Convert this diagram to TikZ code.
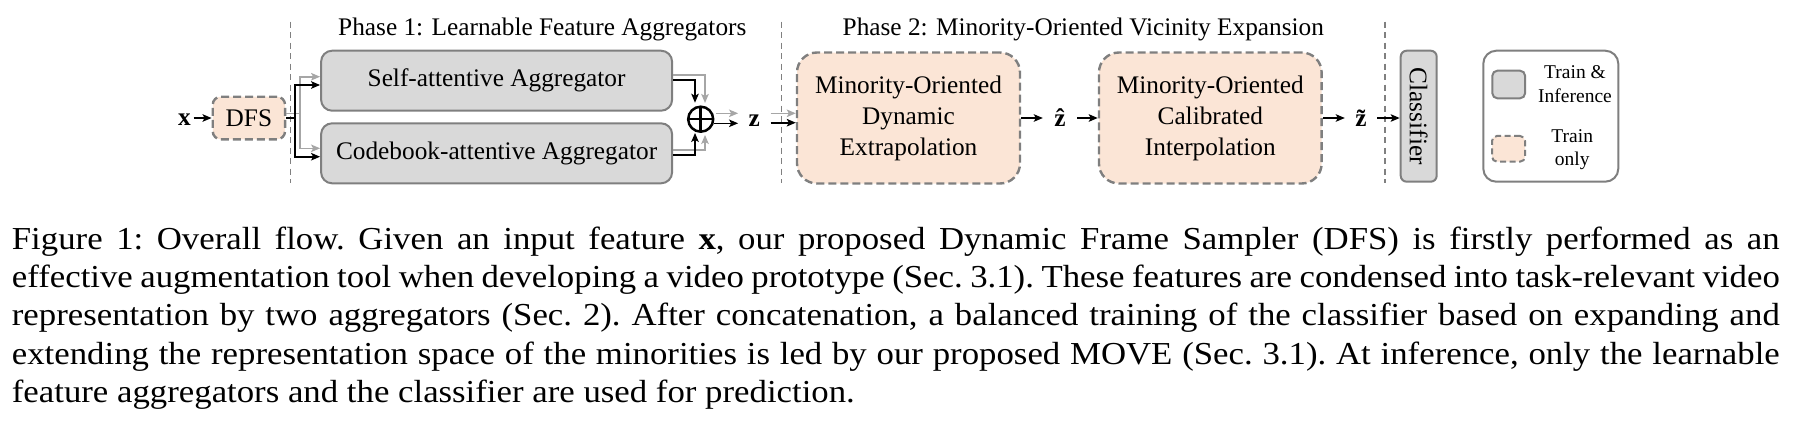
\documentclass[tikz,border=0pt]{standalone}
\usepackage{graphicx}
\usepackage{fontspec}
\setmainfont{Liberation Serif}
\usetikzlibrary{arrows.meta,calc}
\definecolor{bordergray}{HTML}{7F7F7F}
\definecolor{fillgray}{HTML}{D9D9D9}
\definecolor{peach}{HTML}{FBE5D6}
\definecolor{arrgray}{HTML}{A6A6A6}
\definecolor{sepgray}{HTML}{808080}
\newlength\mylastw
\newcommand\mycapfont{\fontsize{32}{38}\selectfont\frenchspacing}
\newcommand\capjust[1]{\scalebox{\mysx}[1]{\makebox[\myinnerw][s]{\mycapfont #1}}}
\newcommand\caplast[1]{\scalebox{\mysx}[1]{\mycapfont #1}}
\begin{document}
\settowidth{\mylastw}{\mycapfont feature aggregators and the classifier are used for prediction.}%
\pgfmathsetmacro\mysx{842.9/\mylastw}%
\pgfmathsetlengthmacro\myinnerw{1767.8/\mysx}%
\begin{tikzpicture}[x=1pt,y=-1pt,
  font=\fontsize{25.3}{31}\selectfont,
  box/.style={draw=bordergray, line width=2pt, fill=fillgray, rounded corners=11pt, inner sep=0pt, align=center},
  trn/.style={draw=bordergray, line width=2.4pt, dash pattern=on 8pt off 4pt, fill=peach, inner sep=0pt, align=center},
  arr/.style={-{Stealth[length=9pt,width=7.5pt,inset=2pt]}, line width=1.6pt, draw=black},
  garr/.style={arr, draw=arrgray},
  sep/.style={draw=sepgray, line width=1.1pt, dash pattern=on 6pt off 4.5pt},
  lbl/.style={inner sep=0pt, font=\fontsize{25.3}{31}\selectfont\bfseries, anchor=base},
  capline/.style={anchor=base west, inner sep=0pt},
  legtext/.style={inner sep=0pt, align=center, font=\fontsize{19.5}{23.7}\selectfont},
]
\useasboundingbox (0,0) rectangle (1799,426);

% separators
\draw[sep] (290.7,21.7) -- (290.7,183);
\draw[sep] (781.7,21.7) -- (781.7,183);
\draw[sep] (1385,21.7) -- (1385,183);

% titles
\node[anchor=base, inner sep=0pt] (p1) at (542.3,35) {Phase 1: Learnable Feature Aggregators};
\node[anchor=base, inner sep=0pt] (p2) at (1083.3,35) {Phase 2: Minority-Oriented Vicinity Expansion};

% nodes
\node[lbl, minimum width=18pt] (x) at (184.5,125) {x};
\node[trn, rounded corners=8pt, minimum width=72.3pt, minimum height=42.6pt] (dfs) at (248.9,118) {DFS};
\node[box, minimum width=351pt, minimum height=60pt] (self) at (496.6,80.7) {Self-attentive Aggregator};
\node[box, minimum width=351pt, minimum height=60pt] (code) at (496.6,153.3) {Codebook-attentive Aggregator};
\node[circle, draw=black, line width=2.5pt, minimum size=25pt, inner sep=0pt,
  path picture={\draw[line width=2.5pt] (path picture bounding box.north) -- (path picture bounding box.south)
  (path picture bounding box.west) -- (path picture bounding box.east);}] (op) at (700.7,119.2) {};
\node[lbl, minimum width=32pt] (z) at (754.3,126.7) {z};
\node[trn, rounded corners=20pt, minimum width=223pt, minimum height=131pt] (mode) at (908.5,118) {Minority-Oriented\\Dynamic\\Extrapolation};
\node[lbl, minimum width=34pt] (zh) at (1060,126.7) {\^{z}};
\node[trn, rounded corners=20pt, minimum width=222.7pt, minimum height=131pt] (moci) at (1210.3,118) {Minority-Oriented\\Calibrated\\Interpolation};
\node[lbl, minimum width=32pt] (zt) at (1361,126.7) {\~{z}};
\node[box, rounded corners=6pt, minimum width=36pt, minimum height=131pt] (cls) at (1418.7,116.2) {\rotatebox{-90}{Classifier}};

% legend
\node[draw=bordergray, line width=2pt, rounded corners=13pt, fill=white, minimum width=135pt, minimum height=131pt, inner sep=0pt] (leg) at (1550.8,116.2) {};
\node[box, rounded corners=5pt, minimum width=32.7pt, minimum height=27.6pt] (lg1) at (1508.7,84.5) {};
\node[trn, rounded corners=5pt, line width=2pt, dash pattern=on 6pt off 3.5pt, minimum width=33pt, minimum height=25.7pt] (lg2) at (1508.5,148.8) {};
\node[legtext] (t1) at (1575,84.2) {Train \&\\Inference};
\node[legtext] (t2) at (1572.2,149.5) {Train\\only};

% connectors
\draw[arr] ($(x.base east)+(0,-7)$) -- (dfs.west);
\draw[garr] ($(dfs.east)+(0,-4.7)$) -- ++(14,0) |- ($(self.west)+(0,-4)$);
\draw[garr] ($(dfs.east)+(0,-4.7)$) -- ++(14,0) |- ($(code.west)+(0,-5)$);
\draw[arr] (dfs.east) -- ++(9,0) |- ($(self.west)+(0,4.3)$);
\draw[arr] (dfs.east) -- ++(9,0) |- ($(code.west)+(0,3.4)$);

\draw[garr] ($(self.east)+(0,-5.7)$) -| ($(op.north)+(4.3,-2.5)$);
\draw[garr] ($(code.east)+(0,-3.3)$) -| ($(op.south)+(4.3,2)$);
\draw[arr] ($(self.east)+(0,-0.7)$) -| ($(op.north)+(-5.7,-2.7)$);
\draw[arr] ($(code.east)+(0,1.7)$) -| ($(op.south)+(-5.7,0)$);

\draw[garr] ($(op.east)+(1.5,-5.9)$) -- ($(z.base west)+(0,-13.4)$);
\draw[arr] ($(op.east)+(0,4.1)$) -- ($(z.base west)+(0,-3.4)$);
\draw[garr] ($(z.base east)+(0,-13.4)$) -- ($(mode.west)+(0,-4.7)$);
\draw[arr] ($(z.base east)+(0,-4)$) -- ($(mode.west)+(0,4.7)$);

\draw[arr] (mode.east) -- ($(zh.base west)+(0,-8.7)$);
\draw[arr] ($(zh.base east)+(0,-8.7)$) -- (moci.west);
\draw[arr] (moci.east) -- ($(zt.base west)+(0,-8.7)$);
\draw[arr] ($(zt.base east)+(0,-8.7)$) -- ($(cls.west)+(0,1.8)$);

% caption
\node[capline] (c1) at (11.7,249.5) {\capjust{Figure 1: Overall flow. Given an input feature \textbf{x}, our proposed Dynamic Frame Sampler (DFS) is firstly performed as an}};
\node[capline] (c2) at (11.7,287.5) {\capjust{effective augmentation tool when developing a video prototype (Sec.~3.1). These features are condensed into task-relevant video}};
\node[capline] (c3) at (11.7,325.5) {\capjust{representation by two aggregators (Sec.~2). After concatenation, a balanced training of the classifier based on expanding and}};
\node[capline] (c4) at (11.7,364.5) {\capjust{extending the representation space of the minorities is led by our proposed MOVE (Sec.~3.1). At inference, only the learnable}};
\node[capline] (c5) at (11.7,402.7) {\caplast{feature aggregators and the classifier are used for prediction.}};
\end{tikzpicture}
\end{document}
